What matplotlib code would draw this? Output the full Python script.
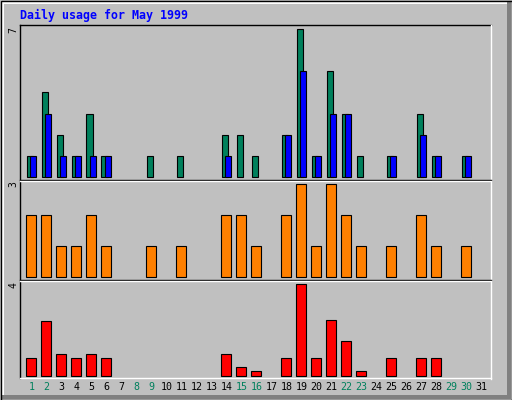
import matplotlib
matplotlib.use('Agg')
import matplotlib.pyplot as plt
from matplotlib.patches import Rectangle

# data (May 1999)
days = list(range(1, 32))
hits = [1, 4, 2, 1, 3, 1, 0, 0, 1, 0, 1, 0, 0, 2, 2, 1, 0, 2, 7, 1, 5, 3, 1, 0, 1, 0, 3, 1, 0, 1, 0]
files = [1, 3, 1, 1, 1, 1, 0, 0, 0, 0, 0, 0, 0, 1, 0, 0, 0, 2, 5, 1, 3, 3, 0, 0, 1, 0, 2, 1, 0, 1, 0]
sites = [2, 2, 1, 1, 2, 1, 0, 0, 1, 0, 1, 0, 0, 2, 2, 1, 0, 2, 3, 1, 3, 2, 1, 0, 1, 0, 2, 1, 0, 1, 0]
kbytes = [0.76, 2.38, 0.93, 0.76, 0.93, 0.76, 0, 0, 0, 0, 0, 0, 0, 0.93, 0.37, 0.19, 0,
          0.76, 4.0, 0.76, 2.42, 1.5, 0.19, 0, 0.76, 0, 0.76, 0.76, 0, 0, 0]
weekend_days = [1, 2, 8, 9, 15, 16, 22, 23, 29, 30]
max_labels = ['7', '3', '4']

BG = '#C0C0C0'
GREEN = '#00805C'
BLUE = '#0000FF'
ORANGE = '#FF8000'
RED = '#FF0000'
LW = 0.8

W, H = 512, 400
fig = plt.figure(figsize=(W / 100, H / 100), dpi=100)
fig.patch.set_facecolor(BG)

# background axes in pixel coordinates for the frame work
bg = fig.add_axes([0, 0, 1, 1])
bg.set_xlim(0, W)
bg.set_ylim(H, 0)
bg.axis('off')

# outer 3D border
bg.add_patch(Rectangle((0, 0), W, H, facecolor=BG, edgecolor='none'))
bg.add_patch(Rectangle((1, 1), W - 2, 3, facecolor='white', edgecolor='none'))
bg.add_patch(Rectangle((1, 1), 3, H - 2, facecolor='white', edgecolor='none'))
bg.add_patch(Rectangle((W - 5, 1), 4, H - 2, facecolor='#808080', edgecolor='none'))
bg.add_patch(Rectangle((1, H - 5), W - 2, 4, facecolor='#808080', edgecolor='none'))
bg.add_patch(Rectangle((0.5, 0.5), W - 1, H - 1, facecolor='none', edgecolor='black', lw=1))

# plot area frame
PX0, PX1 = 20, 491
PY0, PY1 = 24.5, 378
bg.plot([PX0, PX0], [PY0, PY1], color='black', lw=1)
bg.plot([PX0, PX1], [PY0, PY0], color='black', lw=1)
bg.plot([PX1, PX1], [PY0, PY1 + 0.5], color='white', lw=1)
bg.plot([PX0, PX1], [PY1, PY1], color='white', lw=1)
for yd in [180, 280]:
    bg.plot([PX0, PX1 - 0.5], [yd, yd], color='black', lw=1)
    bg.plot([PX0, PX1 - 0.5], [yd + 1, yd + 1], color='white', lw=1)

# title
bg.text(20, 19, 'Daily usage for May 1999', color=BLUE, fontsize=8.4,
        family='DejaVu Sans Mono', fontweight='bold', va='baseline', ha='left')

# day labels
for d in days:
    xp = 31.3 + 15 * (d - 1)
    bg.text(xp, 387.5, str(d), color=GREEN if d in weekend_days else 'black',
            fontsize=7.2, family='DejaVu Sans Mono', ha='center', va='center')

# max labels (rotated)
for lab, yp in zip(max_labels, [30.5, 184.5, 285]):
    bg.text(13.5, yp, lab, rotation=90, fontsize=7, family='DejaVu Sans Mono',
            ha='center', va='center', color='black')

X_LO = 1 - (31.3 - PX0) / 15
X_HI = 31 + (PX1 - 481.3) / 15


def panel(ytop, ybot, y0pix, ymaxpix, vmax):
    ax = fig.add_axes([PX0 / W, 1 - ybot / H, (PX1 - PX0) / W, (ybot - ytop) / H])
    scale = (y0pix - ymaxpix) / vmax
    ax.set_ylim(-(ybot - y0pix) / scale, vmax + (ymaxpix - ytop) / scale)
    ax.set_xlim(X_LO, X_HI)
    ax.axis('off')
    ax.patch.set_alpha(0)
    return ax


ax1 = panel(25.5, 179.5, 176.7, 29.3, 7)
ax2 = panel(181.5, 279.5, 276.7, 184.3, 3)
ax3 = panel(281.5, 377.5, 375.7, 284.3, 4)

edge = dict(edgecolor='black', linewidth=LW)
hd = [d for d, v in zip(days, hits) if v > 0]
ax1.bar([d - 0.32 for d in hd], [v for v in hits if v > 0], width=0.44,
        align='edge', color=GREEN, **edge)
fd = [d for d, v in zip(days, files) if v > 0]
ax1.bar([d - 0.1 for d in fd], [v for v in files if v > 0], width=0.44,
        align='edge', color=BLUE, **edge)

sd = [d for d, v in zip(days, sites) if v > 0]
ax2.bar(sd, [v for v in sites if v > 0], width=0.66, color=ORANGE, **edge)

kd = [d for d, v in zip(days, kbytes) if v > 0]
ax3.bar(kd, [v for v in kbytes if v > 0], width=0.66, color=RED, **edge)

fig.savefig('out.png', dpi=100, facecolor=fig.get_facecolor())
